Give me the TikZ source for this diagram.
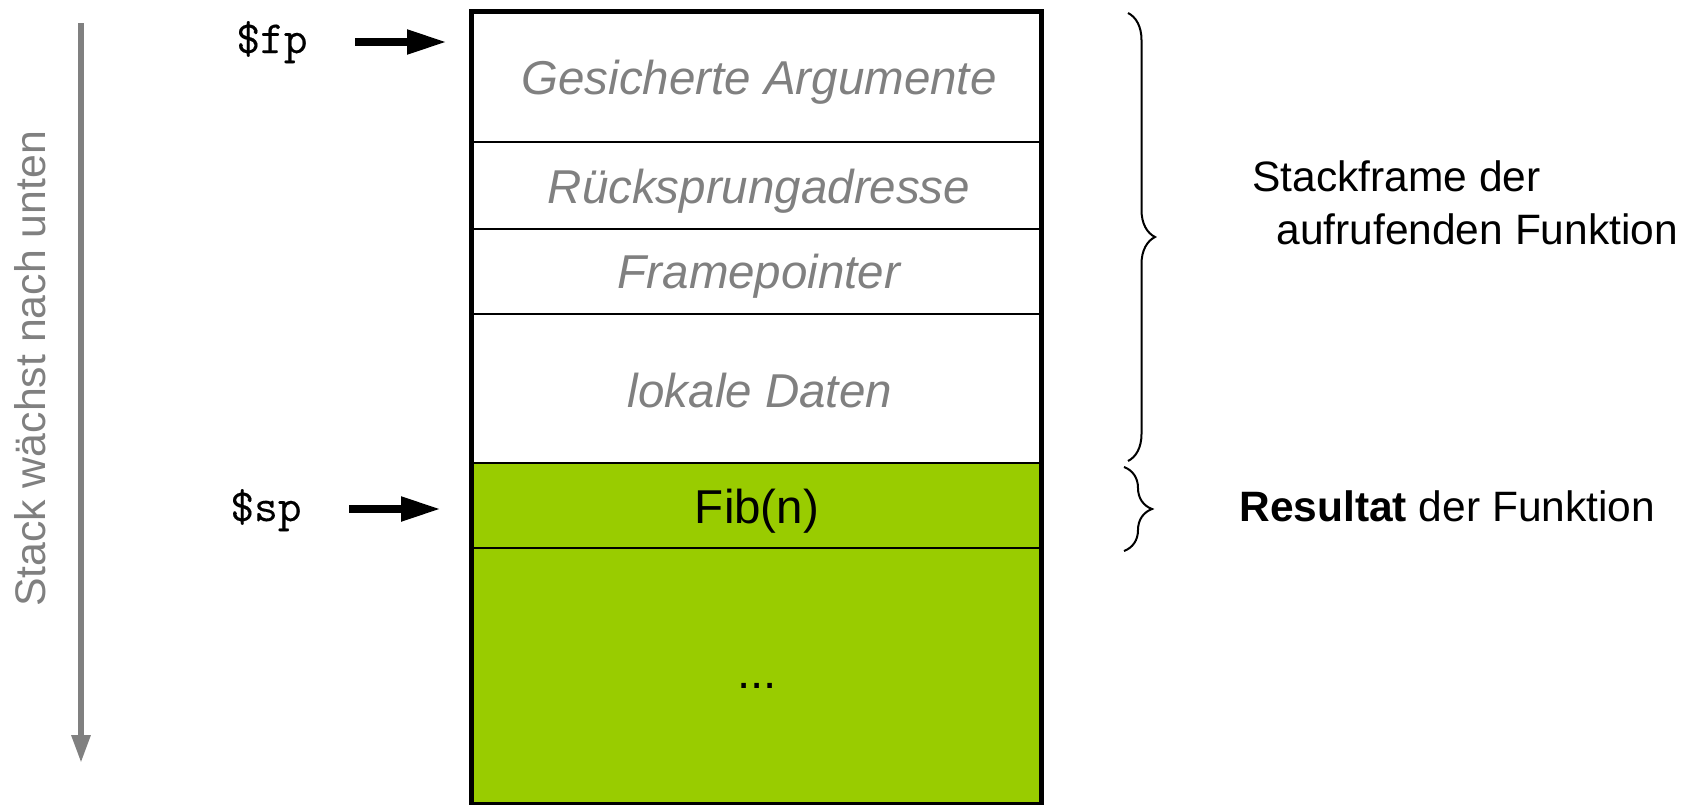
\documentclass[tikz,border=0pt]{standalone}
\usepackage{fontspec}
\setmainfont{Liberation Sans}
\newfontfamily\regfont[FakeBold=0.3]{Latin Modern Mono}
\usetikzlibrary{arrows.meta,decorations.pathreplacing}
\definecolor{stackgreen}{HTML}{99CC00}
\definecolor{labelgray}{HTML}{808080}

\begin{document}
\begin{tikzpicture}[x=0.5pt,y=-0.5pt,
  celltext/.style={anchor=base,inner sep=0pt,font=\fontsize{23.75pt}{28pt}\selectfont},
  savedtext/.style={celltext,text=labelgray,font=\fontsize{23.75pt}{28pt}\selectfont\itshape},
  sidetext/.style={anchor=base west,inner sep=0pt,font=\fontsize{21.25pt}{26pt}\selectfont},
  regtext/.style={anchor=base,inner sep=0pt,font=\fontsize{23pt}{27pt}\selectfont\regfont},
  divider/.style={line width=1pt},
  frame/.style={line width=2.5pt},
  pointer/.style={line width=4pt,-{Triangle[length=20pt,width=11.5pt]}},
  growth/.style={line width=3pt,draw=labelgray,-{Triangle[length=14pt,width=9pt]}},
  curly/.style={line width=1pt,decorate,decoration={brace,amplitude=#1}}
]
\useasboundingbox (0,0) rectangle (1692,804);

% stack cells
\fill[white] (471,11) rectangle (1041,463);
\fill[stackgreen] (471,463) rectangle (1041,804);
\foreach \y in {142,229,314,463,548}
  \draw[divider] (471,\y) -- (1041,\y);
\draw[frame] (471,11) rectangle (1041,804);

% cell contents
\node[savedtext] (args)   at (759,94)  {Gesicherte Argumente};
\node[savedtext] (ret)    at (759,203) {Rücksprungadresse};
\node[savedtext] (fpsave) at (759,288) {Framepointer};
\node[savedtext] (locals) at (760,407) {lokale Daten};
\node[celltext]  (fib)    at (757,523) {Fib(n)};
\node[celltext]  (more)   at (757,688) {...};

% register pointers
\node[regtext] (fp) at (272,53)  {\$fp};
\node[regtext] (sp) at (266,521) {\$sp};
\coordinate (fptail) at (355,42);
\coordinate (fptip)  at (447,42);
\coordinate (sptail) at (349,509);
\coordinate (sptip)  at (441,509);
\draw[pointer] (fptail) -- (fptip);
\draw[pointer] (sptail) -- (sptip);

% growth direction
\coordinate (growtop) at (81,23);
\coordinate (growend) at (81,763);
\draw[growth] (growtop) -- (growend);
\node[anchor=base,inner sep=0pt,rotate=90,text=labelgray,
      font=\fontsize{21.4pt}{26pt}\selectfont] (growlabel) at (45,369) {Stack wächst nach unten};

% braces and their captions
\coordinate (callertop) at (1128,13);
\coordinate (callerbot) at (1128,461);
\draw[curly=13.5pt] (callertop) -- (callerbot);
\coordinate (resulttop) at (1124,467);
\coordinate (resultbot) at (1124,551);
\draw[curly=14pt] (resulttop) -- (resultbot);

\node[sidetext] (caller1) at (1252,191) {Stackframe der};
\node[sidetext] (caller2) at (1276,244) {aufrufenden Funktion};
\node[sidetext] (result)  at (1239,521) {\textbf{Resultat} der Funktion};
\end{tikzpicture}
\end{document}
